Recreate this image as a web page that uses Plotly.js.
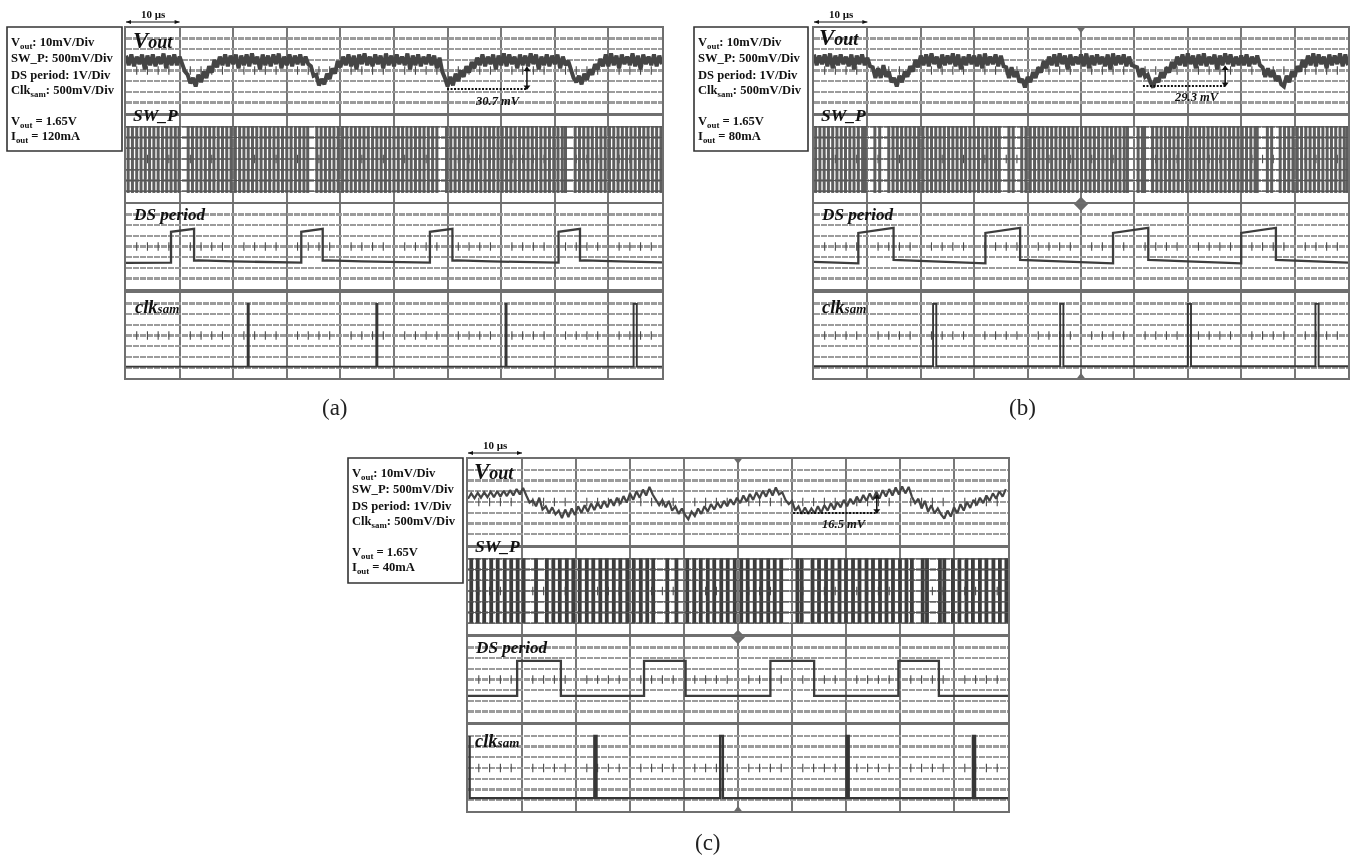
<!DOCTYPE html>
<html>
<head>
<meta charset="utf-8">
<script src="https://cdn.plot.ly/plotly-3.0.1.min.js"></script>
<style>html,body{margin:0;padding:0;background:#fff}#chart{width:1357px;height:856px;filter:blur(0.5px)}</style>
</head>
<body>
<div id="chart"></div>
<script>
// Sample spacing of the scope traces, in microseconds
const voutStepAB = 0.5;
const voutStepC = 0.6;

// Vout, in divisions from the bottom of the strip
const vout_a = [
5.4,4.5,5.5,4.4,5.3,4.6,5.5,4.1,5.4,4.5,5.5,4.4,5.3,4.6,5.6,4.2,5.4,4.5,5.5,4.5,
5.3,4.6,3.9,3.6,2.8,3.3,2.5,3.6,2.9,3.9,3.3,4.4,3.8,5.0,4.3,5.3,4.5,5.5,4.4,5.4,
4.6,5.5,4.2,5.4,4.5,5.5,4.4,5.6,4.6,5.3,4.1,5.5,4.5,5.4,4.4,5.5,4.6,5.6,4.2,5.3,
4.5,5.5,4.4,5.4,4.6,5.5,4.5,5.3,4.6,4.4,3.5,3.6,2.6,3.2,2.7,3.7,3.2,4.2,3.7,4.9,
4.3,5.3,4.5,5.5,4.4,5.4,4.1,5.5,4.6,5.6,4.5,5.3,4.4,5.5,4.6,5.4,4.2,5.6,4.5,5.4,
4.4,5.5,4.6,5.3,4.5,5.6,4.1,5.4,4.5,5.5,4.4,5.3,4.6,5.5,4.5,5.4,4.2,5.2,3.9,3.3,
2.5,3.4,2.6,3.7,3.0,4.0,3.4,4.4,3.8,4.8,4.2,5.2,4.5,5.5,4.4,5.3,4.6,5.5,4.1,5.4,
4.5,5.6,4.4,5.5,4.6,5.3,4.2,5.5,4.5,5.4,4.4,5.6,4.6,5.5,4.1,5.3,4.5,5.5,4.4,5.4,
4.6,5.5,4.2,5.3,4.5,4.9,4.0,3.3,2.9,3.5,2.7,3.7,3.1,4.1,3.6,4.6,4.1,5.1,4.4,5.5,
4.4,5.6,4.5,5.4,4.2,5.5,4.6,5.3,4.5,5.6,4.4,5.4,4.1,5.5,4.6,5.3,4.5,5.5,4.4,5.4,4.6];

const vout_b = [
5.5,4.5,5.4,4.6,5.5,4.4,5.6,4.2,5.4,4.5,5.5,4.6,5.3,4.4,5.5,4.1,5.4,4.6,5.5,4.5,
5.2,4.4,4.3,3.3,4.2,3.3,4.5,3.4,3.9,2.9,3.3,2.5,3.5,2.9,3.9,3.4,4.4,3.9,5.0,4.3,
5.4,4.5,5.5,4.4,5.6,4.6,5.3,4.2,5.5,4.5,5.4,4.6,5.6,4.4,5.5,4.1,5.3,4.5,5.5,4.6,
5.4,4.4,5.5,4.2,5.6,4.5,5.3,4.6,5.5,4.4,5.4,4.4,4.3,3.3,4.3,3.4,3.9,2.9,3.2,2.4,
3.4,2.9,3.8,3.3,4.3,3.8,4.9,4.2,5.3,4.5,5.5,4.4,5.6,4.6,5.4,4.1,5.5,4.5,5.3,4.6,
5.5,4.4,5.6,4.2,5.4,4.5,5.5,4.6,5.3,4.4,5.5,4.1,5.6,4.5,5.4,4.6,5.5,4.4,5.3,4.5,
4.4,4.3,3.4,4.2,3.4,3.6,2.9,2.4,3.3,2.9,3.8,3.3,4.3,3.8,4.8,4.2,5.3,4.5,5.5,4.4,
5.6,4.6,5.4,4.2,5.5,4.5,5.6,4.4,5.3,4.6,5.5,4.1,5.4,4.5,5.6,4.6,5.5,4.4,5.3,4.5,
5.4,4.5,5.5,4.4,5.3,4.6,5.4,4.5,4.3,3.4,4.2,3.4,4.0,3.0,3.5,2.7,2.5,3.5,2.9,3.9,
3.4,4.4,3.9,5.0,4.3,5.4,4.5,5.6,4.4,5.5,4.6,5.3,4.2,5.5,4.5,5.4,4.6,5.6,4.4,5.5,4.5];

const vout_c = [
4.3,4.8,4.35,4.85,4.4,4.9,4.45,4.95,4.45,5.0,
4.5,5.05,4.55,5.1,4.6,5.2,4.7,5.3,4.6,3.95,
4.15,3.6,4.4,3.3,3.6,2.95,3.5,2.85,3.2,2.5,
3.3,2.6,3.4,2.8,3.6,3.0,3.7,3.1,3.85,3.25,
3.95,3.4,4.1,3.5,4.25,3.65,4.4,3.8,4.55,3.95,
4.8,4.2,5.0,4.4,5.15,4.6,5.4,4.7,4.2,3.7,
4.2,3.5,4.1,3.2,3.6,2.9,3.4,2.8,2.4,3.1,
2.7,3.4,2.9,3.6,3.1,3.8,3.3,3.95,3.45,4.1,
3.6,4.25,3.75,4.4,3.9,4.6,4.05,4.75,4.2,4.9,
4.35,5.05,4.5,5.2,4.6,5.35,4.7,4.9,4.2,3.8,
4.1,3.2,3.6,2.9,3.5,2.9,3.4,2.95,3.6,3.0,
3.7,3.2,3.9,3.3,4.0,3.5,4.2,3.6,4.3,3.8,
4.5,3.95,4.65,4.1,4.8,4.2,4.95,4.35,5.1,4.5,
5.2,4.6,5.35,4.7,5.45,4.8,5.4,4.5,3.9,4.3,
3.4,4.1,3.1,3.7,2.95,3.4,2.85,2.45,3.2,2.65,
3.5,2.95,3.8,3.2,4.0,3.45,4.2,3.7,4.4,3.9,
4.6,4.1,4.8,4.3,5.0,4.5,5.2];

// SW_P pulse positions in microseconds
const sw_a = [0.4,1.2,2.0,2.8,3.6,4.4,5.2,6.0,6.8,7.6,8.4,9.2,9.9,
11.6,12.4,13.2,14.0,14.8,15.6,16.4,17.2,18.0,18.8,19.6,20.4,21.2,22.0,22.8,23.6,24.4,25.2,26.0,26.8,27.6,28.4,29.2,30.0,30.8,31.6,32.4,33.2,33.9,
35.6,36.4,37.2,38.0,38.8,39.6,40.4,41.2,42.0,42.8,43.6,44.4,45.2,46.0,46.8,47.6,48.4,49.2,50.0,50.8,51.6,52.4,53.2,54.0,54.8,55.6,56.4,57.2,58.0,
59.8,60.6,61.4,62.2,63.0,63.8,64.6,65.4,66.2,67.0,67.8,68.6,69.4,70.2,71.0,71.8,72.6,73.4,74.2,75.0,75.8,76.6,77.4,78.2,79.0,79.8,80.6,81.4,82.0,
83.8,84.6,85.4,86.2,87.0,87.8,88.6,89.4,90.2,91.0,91.8,92.6,93.4,94.2,95.0,95.8,96.6,97.4,98.2,99.0,99.8];
const sw_b = [0.3,1.1,1.9,2.7,3.5,4.3,5.1,5.9,6.7,7.5,8.3,9.1,9.6,
11.4,12.3,
14.0,14.8,15.6,16.4,17.2,18.0,18.8,19.6,20.4,21.2,22.0,22.8,23.6,24.4,25.2,26.0,26.8,27.6,28.4,29.2,30.0,30.8,31.6,32.4,33.2,34.0,34.7,
36.5,37.3,
38.9,39.7,40.5,41.3,42.1,42.9,43.7,44.5,45.3,46.1,46.9,47.7,48.5,49.3,50.1,50.9,51.7,52.5,53.3,54.1,54.9,55.7,56.5,57.3,58.1,58.7,
60.7,61.5,61.9,
63.4,64.2,65.0,65.8,66.6,67.4,68.2,69.0,69.8,70.6,71.4,72.2,73.0,73.8,74.6,75.4,76.2,77.0,77.8,78.6,79.4,80.2,81.0,81.8,82.6,83.0,
84.9,85.7,
87.3,88.1,88.9,89.7,90.5,91.3,92.1,92.9,93.7,94.5,95.3,96.1,96.9,97.7,98.5,99.3,99.8];
const sw_c = [0.6,1.8,3.0,4.3,5.5,6.8,8.0,9.2,10.3,
12.6,
14.6,15.8,17.0,18.3,19.5,20.7,22.0,23.2,24.5,25.7,27.0,28.2,29.5,30.7,32.0,33.2,34.3,
36.9,
38.6,
40.6,41.9,43.1,44.4,45.6,46.9,48.1,49.4,50.6,51.8,53.1,54.3,55.6,56.8,58.0,
61.0,61.8,
63.8,65.0,66.3,67.5,68.8,70.0,71.3,72.5,73.8,75.0,76.3,77.5,78.7,80.0,81.2,82.2,
84.2,85.0,
87.4,88.2,
89.8,91.0,92.3,93.5,94.8,96.0,97.3,98.5,99.7];
const sw_low = {a:0.84, b:0.84, c:1.03};
const sw_high = {a:7.07, b:7.07, c:7.07};

// DS period
const ds_a_t = [0,8.4,8.4,12.7,12.7,13.5,20,32.7,32.7,36.7,36.7,37.5,44,56.7,56.7,60.9,60.9,61.7,68,80.7,80.7,84.7,84.7,85.5,92,100];
const ds_a_y = [2.45,2.48,5.38,5.66,2.67,2.7,2.6,2.48,5.38,5.66,2.67,2.7,2.6,2.48,5.38,5.66,2.67,2.7,2.6,2.48,5.38,5.66,2.67,2.7,2.6,2.5];
const ds_b_t = [0,8.3,8.3,14.9,14.9,32.1,32.1,38.6,38.6,56,56,62.6,62.6,80,80,86.5,86.5,100];
const ds_b_y = [2.55,2.42,5.28,5.75,2.74,2.42,5.28,5.75,2.74,2.42,5.28,5.75,2.74,2.42,5.28,5.75,2.74,2.48];
const ds_c_t = [0,9.1,9.1,17.2,17.2,32.6,32.6,40.3,40.3,56,56,64.1,64.1,79.7,79.7,87.2,87.2,100];
const ds_c_y = [2.45,2.45,5.75,5.75,2.45,2.45,5.75,5.75,2.45,2.45,5.75,5.75,2.45,2.45,5.75,5.75,2.45,2.45];

// clk_sam
const clk_a_t = [0,22.7,22.7,22.9,22.9,46.7,46.7,46.9,46.9,70.8,70.8,71.0,71.0,94.7,94.7,95.3,95.3,100];
const clk_a_y = [1.07,1.07,6.98,6.98,1.07,1.07,6.98,6.98,1.07,1.07,6.98,6.98,1.07,1.07,6.98,6.98,1.07,1.07];
const clk_b_t = [0,22.3,22.3,22.9,22.9,46.1,46.1,46.7,46.7,70.0,70.0,70.6,70.6,93.9,93.9,94.5,94.5,100];
const clk_b_y = [1.1,1.1,6.98,6.98,1.1,1.1,6.98,6.98,1.1,1.1,6.98,6.98,1.1,1.1,6.98,6.98,1.1,1.1];
const clk_c_t = [0.3,0.3,23.4,23.4,23.8,23.8,46.7,46.7,47.2,47.2,70.1,70.1,70.5,70.5,93.5,93.5,93.9,93.9,100];
const clk_c_y = [6.98,1.2,1.2,6.98,6.98,1.2,1.2,6.98,6.98,1.2,1.2,6.98,6.98,1.2,1.2,6.98,6.98,1.2,1.2];

// Measurements on Vout: dotted line start, end, its level, arrow top
const meas_a = [59.9,74.8,2.25,4.3];
const meas_b = [61.6,77.0,2.54,4.4];
const meas_c = [60.2,75.7,2.98,4.65];

// Texts
const scaleLines = ['V<sub>out</sub>: 10mV/Div','SW_P: 500mV/Div','DS period: 1V/Div','Clk<sub>sam</sub>: 500mV/Div'];
const condA = ['V<sub>out</sub> = 1.65V','I<sub>out</sub> = 120mA'];
const condB = ['V<sub>out</sub> = 1.65V','I<sub>out</sub> = 80mA'];
const condC = ['V<sub>out</sub> = 1.65V','I<sub>out</sub> = 40mA'];

const W = 1357, H = 856;
const px = x => x / W, py = y => 1 - y / H;
const SERIF = '"Liberation Serif","Times New Roman",serif';

const tickPos = [2,4,6,8,12,14,16,18,22,24,26,28,32,34,36,38,42,44,46,48,52,54,56,58,62,64,66,68,72,74,76,78,82,84,86,88,92,94,96,98];
const swGridLevels = [1,2,3,4,5,6,7];

const panels = [
 {id:'a', L:126, R:662, Y:[[28,113],[116,202],[204,289],[293,378]], vout:vout_a, step:voutStepAB, sw:sw_a, swW:3, swC:'#5e5e5e',
  dsT:ds_a_t, dsY:ds_a_y, clkT:clk_a_t, clkY:clk_a_y, clkW:1.9, meas:meas_a, mtxt:'30.7 mV', mtxtAt:[498,101],
  box:[7,27,122,151], cond:condA, lab:[[132,40],[132,115],[132,214],[134,307]], title:'(a)', titleAt:[335,407], marks:false},
 {id:'b', L:814, R:1348, Y:[[28,113],[116,202],[204,289],[293,378]], vout:vout_b, step:voutStepAB, sw:sw_b, swW:3, swC:'#5e5e5e',
  dsT:ds_b_t, dsY:ds_b_y, clkT:clk_b_t, clkY:clk_b_y, clkW:1.9, meas:meas_b, mtxt:'29.3 mV', mtxtAt:[1197,97],
  box:[694,27,808,151], cond:condB, lab:[[818,37],[820,115],[820,214],[821,307]], title:'(b)', titleAt:[1022,407], marks:true},
 {id:'c', L:468, R:1008, Y:[[459,545],[548,634],[637,722],[725,811]], vout:vout_c, step:voutStepC, sw:sw_c, swW:3.8, swC:'#3c3c3c',
  dsT:ds_c_t, dsY:ds_c_y, clkT:clk_c_t, clkY:clk_c_y, clkW:2.4, meas:meas_c, mtxt:'16.5 mV', mtxtAt:[844,524],
  box:[348,458,463,583], cond:condC, lab:[[473,471],[474,546],[474,647],[474,741]], title:'(c)', titleAt:[708,842], marks:true}
];

const traces = [], layout = {
  width:W, height:H, margin:{l:0,r:0,t:0,b:0}, paper_bgcolor:'#fff', plot_bgcolor:'#fff',
  showlegend:false, shapes:[], annotations:[], hovermode:false
};
const note = (text,x,y,size,anchor,color) => layout.annotations.push({text, xref:'paper', yref:'paper', x:px(x), y:py(y),
  xanchor:anchor||'left', yanchor:'middle', showarrow:false, align:'left', borderpad:0,
  font:{family:SERIF, size, color:color||'#111'}});
const ends = (xr,yr,xs,ys,syms,size) => traces.push({type:'scatter', mode:'markers', cliponaxis:false, xaxis:xr, yaxis:yr, x:xs, y:ys,
  marker:{symbol:syms, size, color:'#111'}, hoverinfo:'skip'});
const triPath = (x0,y0,x1,y1,x2,y2) => 'M'+px(x0)+','+py(y0)+'L'+px(x1)+','+py(y1)+'L'+px(x2)+','+py(y2)+'Z';

let n = 0;
panels.forEach(p => {
  const axes = [];
  p.Y.forEach((yy,i) => {
    n++;
    const sfx = n===1 ? '' : String(n);
    const xr = 'x'+sfx, yr = 'y'+sfx;
    axes.push([xr,yr]);
    layout['xaxis'+sfx] = {domain:[px(p.L),px(p.R)], range:[0,100], anchor:yr, dtick:10, tick0:0, showgrid:true, gridcolor:'#777', gridwidth:2,
      zeroline:false, showticklabels:false, ticks:'', showline:true, mirror:true, linecolor:'#6f6f6f', linewidth:2.4, fixedrange:true};
    layout['yaxis'+sfx] = {domain:[py(yy[1]),py(yy[0])], range:[0,8], anchor:xr, dtick:1, tick0:0, showgrid:true, gridcolor:'#9c9c9c', gridwidth:2.4, griddash:'6px,1px',
      zeroline:false, showticklabels:false, ticks:'', showline:true, mirror:true, linecolor:'#6f6f6f', linewidth:2.4, fixedrange:true};
    // centre-line graticule ticks
    traces.push({type:'scatter', mode:'markers', xaxis:xr, yaxis:yr, x:tickPos, y:tickPos.map(()=>4),
      marker:{symbol:'line-ns', size:6, line:{width:1.1,color:'#4a4a4a'}}, hoverinfo:'skip'});
  });
  // Vout
  traces.push({type:'scatter', mode:'lines', xaxis:axes[0][0], yaxis:axes[0][1], x0:0, dx:p.step, y:p.vout,
    line:{color:'#454545', width:p.id==='c'?2.2:4}, hoverinfo:'skip'});
  // SW_P
  const sx=[], sy=[];
  p.sw.forEach(t => { sx.push(t,t,null); sy.push(sw_low[p.id],sw_high[p.id],null); });
  traces.push({type:'scatter', mode:'lines', xaxis:axes[1][0], yaxis:axes[1][1], x:sx, y:sy,
    line:{color:p.swC, width:p.swW}, hoverinfo:'skip'});
  swGridLevels.forEach(v => layout.shapes.push({type:'line', xref:axes[1][0]+' domain', yref:axes[1][1], x0:0, x1:1, y0:v, y1:v, line:{color:'#555',width:1.2}}));
  // DS period
  traces.push({type:'scatter', mode:'lines', xaxis:axes[2][0], yaxis:axes[2][1], x:p.dsT, y:p.dsY,
    line:{color:'#3d3d3d', width:2.3}, hoverinfo:'skip'});
  // clk
  traces.push({type:'scatter', mode:'lines', xaxis:axes[3][0], yaxis:axes[3][1], x:p.clkT, y:p.clkY,
    line:{color:'#363636', width:p.clkW}, hoverinfo:'skip'});
  // scope position marks
  if (p.marks) {
    traces.push({type:'scatter',mode:'markers',cliponaxis:false,xaxis:axes[0][0],yaxis:axes[0][1],x:[50],y:[7.85],marker:{symbol:'triangle-down',size:7,color:'#6a6a6a'},hoverinfo:'skip'});
    traces.push({type:'scatter',mode:'markers',cliponaxis:false,xaxis:axes[2][0],yaxis:axes[2][1],x:[50],y:[8],marker:{symbol:'diamond',size:11,color:'#6a6a6a'},hoverinfo:'skip'});
    traces.push({type:'scatter',mode:'markers',cliponaxis:false,xaxis:axes[3][0],yaxis:axes[3][1],x:[50],y:[0.15],marker:{symbol:'triangle-up',size:7,color:'#6a6a6a'},hoverinfo:'skip'});
  }
  // measurement
  const [mx0,mx1,my,mtop] = p.meas;
  layout.shapes.push({type:'line', xref:axes[0][0], yref:axes[0][1], x0:mx0, x1:mx1, y0:my, y1:my, line:{color:'#111',width:2,dash:'2px,1.5px'}});
  layout.shapes.push({type:'line', xref:axes[0][0], yref:axes[0][1], x0:mx1, x1:mx1, y0:my, y1:mtop, line:{color:'#111',width:1.5}});
  ends(axes[0][0], axes[0][1], [mx1,mx1], [my+0.2,mtop-0.2], ['triangle-down','triangle-up'], 6);
  note('<b><i>'+p.mtxt+'</i></b>', p.mtxtAt[0], p.mtxtAt[1], 12.5, 'center');
  // scale bar above the top strip
  const barX0 = p.L, barX1 = p.L + (p.R-p.L)/10, barY = p.Y[0][0]-6;
  layout.shapes.push({type:'line', xref:'paper', yref:'paper', x0:px(barX0), x1:px(barX1), y0:py(barY), y1:py(barY), line:{color:'#111',width:1}});
  layout.shapes.push({type:'path', xref:'paper', yref:'paper', path:triPath(barX0,barY,barX0+5,barY-2,barX0+5,barY+2), fillcolor:'#111', line:{width:0}});
  layout.shapes.push({type:'path', xref:'paper', yref:'paper', path:triPath(barX1,barY,barX1-5,barY-2,barX1-5,barY+2), fillcolor:'#111', line:{width:0}});
  note('<b>10 µs</b>', p.L+27, p.Y[0][0]-14, 11, 'center');
  // legend box
  const [bx0,by0,bx1,by1] = p.box;
  layout.shapes.push({type:'rect', xref:'paper', yref:'paper', x0:px(bx0), x1:px(bx1), y0:py(by0), y1:py(by1), line:{color:'#333',width:1.6}});
  [16,31,48,64].forEach((dy,i) => note('<b>'+scaleLines[i]+'</b>', bx0+3, by0+dy, 12.6));
  [95,110].forEach((dy,i) => note('<b>'+p.cond[i]+'</b>', bx0+3, by0+dy, 12.6));
  // strip names
  note('<b><i><span style="font-size:23px">V</span>out</i></b>', p.lab[0][0], p.lab[0][1], 18);
  note('<b><i>SW_P</i></b>', p.lab[1][0], p.lab[1][1], 17.5);
  note('<b><i>DS period</i></b>', p.lab[2][0], p.lab[2][1], 17.2);
  note('<b><i>clk<span style="font-size:13px">sam</span></i></b>', p.lab[3][0], p.lab[3][1], 18.5);
  // caption
  note(p.title, p.titleAt[0], p.titleAt[1], 23, 'center', '#222');
});

Plotly.newPlot('chart', traces, layout, {displayModeBar:false, staticPlot:true});
</script>
</body>
</html>
